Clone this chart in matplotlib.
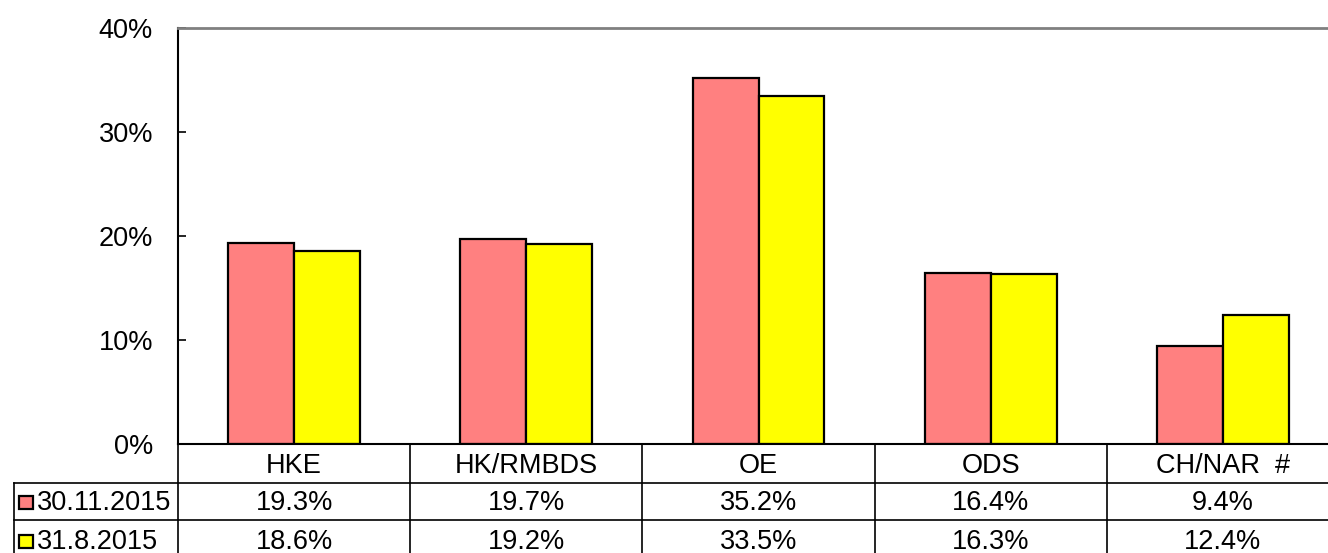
import matplotlib
matplotlib.use("Agg")
import matplotlib.pyplot as plt
from matplotlib.patches import Rectangle

plt.rcParams['font.family'] = ['Liberation Sans', 'DejaVu Sans']

# data
categories = ['HKE', 'HK/RMBDS', 'OE', 'ODS', 'CH/NAR  #']
series_names = ['30.11.2015', '31.8.2015']
nov_2015 = [19.3, 19.7, 35.2, 16.4, 9.4]
aug_2015 = [18.6, 19.2, 33.5, 16.3, 12.4]
colors = ['#FF8080', '#FFFF00']
yticks = [0, 10, 20, 30, 40]

fig = plt.figure(figsize=(13.28, 5.53), dpi=100)
ax = fig.add_axes([178/1328, 109/553, 1161/1328, 416/553])

x = range(len(categories))
w = 0.284
ax.bar([i - w/2 for i in x], nov_2015, width=w, color=colors[0],
       edgecolor='black', linewidth=1.6)
ax.bar([i + w/2 for i in x], aug_2015, width=w, color=colors[1],
       edgecolor='black', linewidth=1.6)

fs = 19.5
ax.set_xlim(-0.5, len(categories) - 0.5)
ax.set_ylim(0, 40)
ax.set_yticks(yticks)
ax.set_yticklabels([f'{t}%' for t in yticks], fontsize=fs)
ax.tick_params(axis='y', direction='in', length=6, width=1.2, pad=18)
ax.set_xticks([])
ax.spines['right'].set_visible(False)
ax.spines['top'].set_color('#808080')
ax.spines['top'].set_linewidth(2)
ax.spines['left'].set_linewidth(1.5)
ax.spines['bottom'].set_linewidth(1.5)

# data table below the axes
tr = ax.get_xaxis_transform()
row_lines = [-39/416, -76/416]
bottom = -112/416
lab_left = -164/1161
for yl in row_lines:
    ax.plot([lab_left, 1], [yl, yl], transform=ax.transAxes, color='black',
            lw=1.2, clip_on=False)
ax.plot([lab_left, lab_left], [row_lines[0], bottom], transform=ax.transAxes,
        color='black', lw=1.2, clip_on=False)
for i in range(len(categories) + 1):
    ax.plot([i - 0.5, i - 0.5], [0, bottom], transform=tr, color='black',
            lw=1.2, clip_on=False)

hdr_y = -22/416
row_y = [-59/416, -98/416]
for i, c in enumerate(categories):
    ax.text(i, hdr_y, c, transform=tr, ha='center', va='center', fontsize=fs)
for r, vals in enumerate([nov_2015, aug_2015]):
    for i, v in enumerate(vals):
        ax.text(i, row_y[r], f'{v}%', transform=tr, ha='center', va='center',
                fontsize=fs)
    ax.add_patch(Rectangle((-159/1161, row_y[r] - 6/416), 14/1161, 13/416,
                           transform=ax.transAxes, facecolor=colors[r],
                           edgecolor='black', lw=1.6, clip_on=False))
    ax.text(-141/1161, row_y[r], series_names[r], transform=ax.transAxes,
            ha='left', va='center', fontsize=fs)

fig.savefig('out.png', dpi=100)
